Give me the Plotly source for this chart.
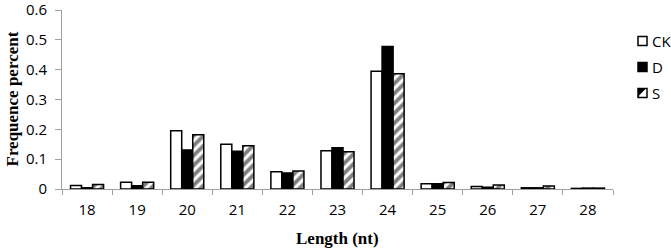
import plotly.graph_objects as go

categories = ["18", "19", "20", "21", "22", "23", "24", "25", "26", "27", "28"]
series_names = ["CK", "D", "S"]
ck = [0.012, 0.023, 0.195, 0.150, 0.058, 0.128, 0.395, 0.018, 0.008, 0.004, 0.002]
d = [0.004, 0.011, 0.131, 0.127, 0.054, 0.138, 0.478, 0.018, 0.006, 0.004, 0.003]
s = [0.015, 0.023, 0.182, 0.145, 0.060, 0.125, 0.387, 0.022, 0.013, 0.010, 0.003]
y_ticks = [0, 0.1, 0.2, 0.3, 0.4, 0.5, 0.6]
y_tick_text = ["0", "0.1", "0.2", "0.3", "0.4", "0.5", "0.6"]

W, H = 671, 251
L, R, T, B = 62, 58, 10, 62
PW, PH = W - L - R, H - T - B


def px(x):
    return (x - L) / PW


def py(y):
    return (H - B - y) / PH


fig = go.Figure()
fig.add_trace(go.Bar(x=categories, y=ck, name=series_names[0],
                     marker=dict(color="white", line=dict(color="black", width=1.5))))
fig.add_trace(go.Bar(x=categories, y=d, name=series_names[1],
                     marker=dict(color="black", line=dict(color="black", width=1.5))))
fig.add_trace(go.Bar(x=categories, y=s, name=series_names[2],
                     marker=dict(color="white", line=dict(color="black", width=1.5),
                                 pattern=dict(shape="/", fgcolor="black", bgcolor="white",
                                              size=7, solidity=0.55))))

tick_font = dict(family="Open Sans, Noto Sans, sans-serif", size=15, color="black")
title_font = dict(family="Liberation Serif, Times New Roman, serif", size=17, color="black")

# custom legend (swatches + labels)
shapes = []
annotations = []
leg_x0, leg_size = 638, 9
leg_centers = [41, 67, 93]
for i, name in enumerate(series_names):
    cy = leg_centers[i]
    y0, y1 = cy - leg_size / 2, cy + leg_size / 2
    fill = "black" if i == 1 else "white"
    shapes.append(dict(type="rect", xref="paper", yref="paper",
                       x0=px(leg_x0), x1=px(leg_x0 + leg_size), y0=py(y1), y1=py(y0),
                       line=dict(color="black", width=1.5), fillcolor=fill))
    if i == 2:
        shapes.append(dict(type="path", xref="paper", yref="paper",
                           path=f"M {px(leg_x0)} {py(y0)} L {px(leg_x0 + leg_size)} {py(y0)} "
                                f"L {px(leg_x0)} {py(y1)} Z",
                           line=dict(color="black", width=0), fillcolor="black"))
        shapes.append(dict(type="line", xref="paper", yref="paper",
                           x0=px(leg_x0 + 1.5), y0=py(y1 - 1.5), x1=px(leg_x0 + leg_size - 1), y1=py(y0 + 1),
                           line=dict(color="white", width=1.5)))
    annotations.append(dict(text=name, x=px(leg_x0 + leg_size + 3), y=py(cy),
                            xref="paper", yref="paper", xanchor="left", yanchor="middle",
                            showarrow=False, font=tick_font))

annotations.append(dict(text="<b>Length (nt)</b>", x=0.5, y=py(238), xref="paper", yref="paper",
                        xanchor="center", yanchor="middle", showarrow=False, font=title_font))
annotations.append(dict(text="<b>Frequence percent</b>", x=px(12), y=0.5, xref="paper", yref="paper",
                        xanchor="center", yanchor="middle", showarrow=False, font=title_font,
                        textangle=-90))

fig.update_layout(
    width=W, height=H,
    margin=dict(l=L, r=R, t=T, b=B, autoexpand=False),
    paper_bgcolor="white", plot_bgcolor="white",
    barmode="group", bargap=0.34, bargroupgap=0,
    showlegend=False,
    xaxis=dict(type="category", showline=True, linecolor="#a0a0a0", linewidth=1,
               ticks="outside", tickson="boundaries", ticklen=5, tickcolor="#a0a0a0",
               tickfont=tick_font, showgrid=False, automargin=False, ticklabelstandoff=7),
    yaxis=dict(range=[0, 0.6005], tickvals=y_ticks, ticktext=y_tick_text,
               showline=True, linecolor="#a0a0a0", linewidth=1,
               ticks="outside", ticklen=6, tickcolor="#a0a0a0",
               tickfont=tick_font, showgrid=False, zeroline=False, automargin=False,
               ticklabelstandoff=5, ticklabeloverflow="allow"),
    shapes=shapes,
    annotations=annotations,
)

fig.write_html("out.html", config={"displayModeBar": False},
               post_script="document.body.style.margin='0';document.body.style.overflow='hidden';")
